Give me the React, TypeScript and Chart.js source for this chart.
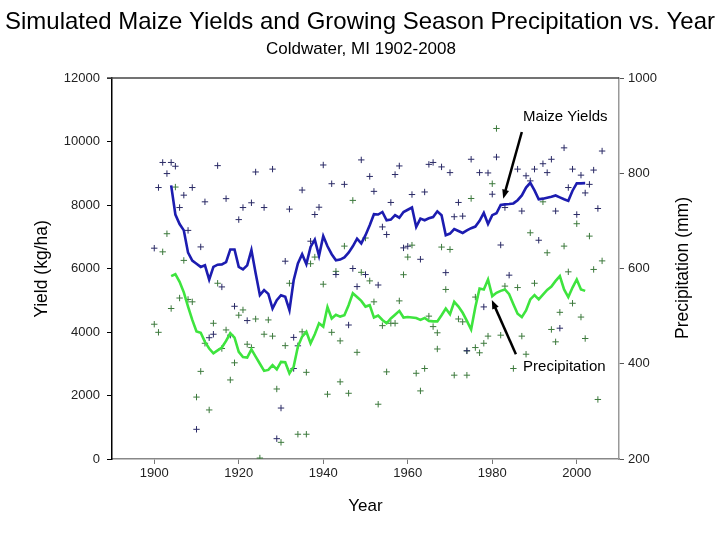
import React, { useEffect, useRef } from "react";
import { Chart, registerables } from "chart.js";

Chart.register(...registerables);

const TITLE = "Simulated Maize Yields and Growing Season Precipitation vs. Year";
const SUBTITLE = "Coldwater, MI 1902-2008";
const X_TITLE = "Year";
const Y_TITLE = "Yield (kg/ha)";
const Y2_TITLE = "Precipitation (mm)";
const LABEL_YIELD = "Maize Yields";
const LABEL_PRECIP = "Precipitation";

const xTicks = [1900, 1920, 1940, 1960, 1980, 2000];
const yTicks = [0, 2000, 4000, 6000, 8000, 10000, 12000];
const y2Ticks = [200, 400, 600, 800, 1000];

// moving averages, one value per year starting at maStartYear
const maStartYear = 1904;
const yieldMA = [
  8620, 7700, 7400, 7200, 6500, 6250, 6150, 6050, 6100, 5650,
  6050, 6120, 6130, 6200, 6600, 6600, 6050, 5970, 6100, 6580,
  5850, 5160, 5320, 5200, 4740, 5000, 5160, 5110, 4690, 5630,
  6160, 6450, 6140, 6680, 6910, 6400, 7020, 6700, 6450, 6260,
  6280, 6350, 6500, 6700, 6940, 6790, 7050, 7360, 7710, 7700,
  7780, 7520, 7540, 7680, 7600, 7780, 7850, 7920, 7310, 7570,
  7520, 7580, 7620, 7800, 7680, 7050, 7100, 7240, 7180, 7120,
  7200, 7270, 7320, 7500, 7750, 7400, 7680, 7740, 8000, 8020,
  8030, 8050, 8150, 8300, 8550, 8700, 8460, 8180, 8200, 8230,
  8260, 8300, 8240, 8180, 8130, 8450, 8680, 8680, 8690,
];
const precipMA = [
  584, 588, 572, 550, 520, 492, 468, 465, 446, 432,
  422, 428, 434, 448, 464, 455, 425, 414, 413, 430,
  415, 400, 385, 387, 397, 388, 404, 403, 380, 394,
  436, 457, 467, 443, 462, 485, 478, 519, 495, 503,
  499, 502, 523, 548, 540, 532, 520, 523, 497, 501,
  492, 485, 495, 503, 511, 497, 498, 497, 496, 492,
  496, 490, 489, 489, 502, 516, 504, 530, 520, 507,
  490, 472, 519, 558, 556, 577, 542, 549, 553, 556,
  546, 525, 505, 498, 512, 535, 544, 535, 545, 555,
  562, 574, 584, 556, 540, 560, 577, 556, 553,
];

// annual simulated yields (kg/ha)
const yieldYears = [
  1900, 1901, 1902, 1903, 1904, 1905, 1906, 1907, 1908, 1909,
  1910, 1911, 1912, 1913, 1914, 1915, 1916, 1917, 1918, 1919,
  1920, 1921, 1922, 1923, 1924, 1926, 1928, 1929, 1930, 1931,
  1932, 1933, 1933, 1934, 1935, 1937, 1938, 1939, 1940, 1942,
  1943, 1945, 1946, 1947, 1948, 1949, 1950, 1951, 1952, 1953,
  1954, 1955, 1956, 1957, 1958, 1959, 1960, 1961, 1963, 1964,
  1965, 1966, 1968, 1969, 1970, 1971, 1972, 1973, 1974, 1975,
  1977, 1978, 1979, 1980, 1981, 1982, 1983, 1984, 1986, 1987,
  1988, 1989, 1990, 1991, 1992, 1993, 1994, 1995, 1996, 1997,
  1998, 1999, 2000, 2001, 2002, 2003, 2004, 2005, 2006,
];
const yieldValues = [
  6640, 8550, 9340, 8990, 9340, 9220, 7920, 8310, 7200, 8550,
  935, 6680, 8100, 3820, 3930, 9240, 5420, 8200, 3900, 4810,
  7540, 7920, 4360, 8070, 9040, 7920, 9130, 640, 1605, 6230,
  7870, 3830, 2850, 3565, 8470, 6860, 7700, 7930, 9260, 8670,
  5810, 8650, 4220, 6000, 5430, 9420, 5810, 8900, 8430, 5480,
  7310, 7070, 8080, 8960, 9230, 6650, 6700, 8330, 6290, 8410,
  9280, 9340, 9200, 5870, 9020, 7630, 8080, 7650, 3410, 9440,
  9020, 4790, 9010, 8340, 9510, 6740, 7920, 5790, 9130, 7810,
  8920, 8760, 9130, 6890, 9300, 9020, 9440, 7810, 4120, 9800,
  8550, 9130, 7700, 8940, 8380, 8650, 9100, 7890, 9700,
];

// annual growing season precipitation (mm)
const precipYears = [
  1900, 1901, 1902, 1903, 1904, 1905, 1906, 1907, 1908, 1909,
  1910, 1911, 1912, 1913, 1914, 1915, 1916, 1917, 1918, 1919,
  1920, 1921, 1922, 1923, 1924, 1925, 1926, 1927, 1928, 1929,
  1930, 1931, 1932, 1934, 1935, 1936, 1936, 1937, 1938, 1940,
  1941, 1942, 1943, 1944, 1944, 1945, 1946, 1947, 1948, 1949,
  1950, 1951, 1952, 1953, 1954, 1955, 1956, 1957, 1958, 1959,
  1960, 1961, 1962, 1963, 1964, 1965, 1966, 1967, 1967, 1968,
  1969, 1970, 1971, 1972, 1973, 1974, 1974, 1975, 1976, 1976,
  1977, 1978, 1979, 1980, 1981, 1982, 1983, 1985, 1986, 1987,
  1988, 1989, 1990, 1992, 1993, 1994, 1995, 1996, 1997, 1998,
  1999, 2000, 2001, 2002, 2003, 2004, 2005, 2006,
];
const precipValues = [
  483, 466, 635, 673, 516, 771, 538, 617, 535, 530,
  330, 384, 443, 303, 485, 569, 432, 471, 366, 402,
  502, 513, 441, 434, 494, 202, 462, 492, 458, 347,
  235, 438, 569, 252, 467, 382, 252, 610, 624, 567,
  336, 466, 594, 448, 362, 647, 338, 743, 424, 592,
  664, 574, 530, 315, 480, 383, 485, 485, 532, 587,
  624, 649, 380, 343, 390, 500, 478, 465, 431, 645,
  556, 640, 376, 494, 488, 427, 376, 747, 434, 540,
  423, 443, 458, 778, 894, 460, 563, 390, 560, 458,
  420, 675, 569, 740, 633, 472, 446, 508, 647, 593,
  527, 694, 498, 453, 668, 598, 325, 616,
];

// annotation anchors (data coordinates)
const yieldArrowTail = [1987.0, 10300];
const yieldArrowHead = [1982.6, 8200];
const yieldLabelAt = [1987.3, 10790];
const precipArrowTail = [1985.6, 420];
const precipArrowHead = [1979.9, 534];
const precipLabelAt = [1987.3, 393];

const FONT = '"Liberation Sans", Arial, sans-serif';

function drawArrow(ctx: CanvasRenderingContext2D, x1: number, y1: number, x2: number, y2: number) {
  const ang = Math.atan2(y2 - y1, x2 - x1);
  const hl = 9;
  const hw = 3.5;
  ctx.save();
  ctx.strokeStyle = "#000";
  ctx.fillStyle = "#000";
  ctx.lineWidth = 2.5;
  ctx.beginPath();
  ctx.moveTo(x1, y1);
  ctx.lineTo(x2 - Math.cos(ang) * hl * 0.6, y2 - Math.sin(ang) * hl * 0.6);
  ctx.stroke();
  ctx.beginPath();
  ctx.moveTo(x2, y2);
  ctx.lineTo(
    x2 - Math.cos(ang) * hl - Math.sin(ang) * hw,
    y2 - Math.sin(ang) * hl + Math.cos(ang) * hw
  );
  ctx.lineTo(
    x2 - Math.cos(ang) * hl + Math.sin(ang) * hw,
    y2 - Math.sin(ang) * hl - Math.cos(ang) * hw
  );
  ctx.closePath();
  ctx.fill();
  ctx.restore();
}

const decorPlugin = {
  id: "decor",
  afterDraw(chart: any) {
    const ctx: CanvasRenderingContext2D = chart.ctx;
    const xs = chart.scales.x;
    const ys = chart.scales.y;
    const y2s = chart.scales.y2;
    const area = chart.chartArea;
    ctx.save();
    // top frame line
    ctx.strokeStyle = "#444";
    ctx.lineWidth = 1.5;
    ctx.beginPath();
    ctx.moveTo(area.left - 5, area.top);
    ctx.lineTo(area.right, area.top);
    ctx.stroke();

    ctx.fillStyle = "#000";
    ctx.textAlign = "center";
    ctx.textBaseline = "middle";
    ctx.font = `24px ${FONT}`;
    ctx.fillText(TITLE, 360, 22, 710);
    ctx.font = `17px ${FONT}`;
    ctx.fillText(SUBTITLE, 361, 49, 200);

    ctx.font = `17px ${FONT}`;
    ctx.fillText(X_TITLE, (area.left + area.right) / 2, 506);

    ctx.save();
    ctx.translate(42, 269);
    ctx.rotate(-Math.PI / 2);
    ctx.font = `17.5px ${FONT}`;
    ctx.fillText(Y_TITLE, 0, 0);
    ctx.restore();

    ctx.save();
    ctx.translate(683, 268);
    ctx.rotate(-Math.PI / 2);
    ctx.font = `17.5px ${FONT}`;
    ctx.fillText(Y2_TITLE, 0, 0);
    ctx.restore();

    // annotations
    ctx.font = `15px ${FONT}`;
    ctx.textAlign = "left";
    ctx.fillText(LABEL_YIELD, xs.getPixelForValue(yieldLabelAt[0]), ys.getPixelForValue(yieldLabelAt[1]));
    ctx.fillText(LABEL_PRECIP, xs.getPixelForValue(precipLabelAt[0]), y2s.getPixelForValue(precipLabelAt[1]));
    drawArrow(
      ctx,
      xs.getPixelForValue(yieldArrowTail[0]), ys.getPixelForValue(yieldArrowTail[1]),
      xs.getPixelForValue(yieldArrowHead[0]), ys.getPixelForValue(yieldArrowHead[1])
    );
    drawArrow(
      ctx,
      xs.getPixelForValue(precipArrowTail[0]), y2s.getPixelForValue(precipArrowTail[1]),
      xs.getPixelForValue(precipArrowHead[0]), y2s.getPixelForValue(precipArrowHead[1])
    );
    ctx.restore();
  },
};

export default function App() {
  const ref = useRef<HTMLCanvasElement | null>(null);
  useEffect(() => {
    if (!ref.current) return;
    const yieldLine = yieldMA.map((v, i) => ({ x: maStartYear + i, y: v }));
    const precipLine = precipMA.map((v, i) => ({ x: maStartYear + i, y: v }));
    const yieldPts = yieldValues.map((v, i) => ({ x: yieldYears[i], y: v }));
    const precipPts = precipValues.map((v, i) => ({ x: precipYears[i], y: v }));
    const tickFont = { family: FONT, size: 13 };
    const chart = new Chart(ref.current, {
      type: "scatter",
      data: {
        datasets: [
          {
            type: "line",
            label: "Yield MA",
            data: yieldLine,
            yAxisID: "y",
            borderColor: "#1c1cb0",
            borderWidth: 2.6,
            pointRadius: 0,
            fill: false,
            tension: 0,
          },
          {
            type: "line",
            label: "Precip MA",
            data: precipLine,
            yAxisID: "y2",
            borderColor: "#3ee43e",
            borderWidth: 2.6,
            pointRadius: 0,
            fill: false,
            tension: 0,
          },
          {
            label: "Yield",
            data: yieldPts,
            yAxisID: "y",
            pointStyle: "cross",
            pointRadius: 3.2,
            borderColor: "#2a2a66",
            borderWidth: 1,
            showLine: false,
          },
          {
            label: "Precipitation",
            data: precipPts,
            yAxisID: "y2",
            pointStyle: "cross",
            pointRadius: 3.2,
            borderColor: "#3d7a3d",
            borderWidth: 1,
            showLine: false,
          },
        ],
      } as any,
      options: {
        responsive: false,
        animation: false,
        layout: { padding: { top: 78, left: 0, right: 0, bottom: 0 } },
        plugins: {
          legend: { display: false },
          tooltip: { enabled: false },
          title: { display: false },
        },
        scales: {
          x: {
            type: "linear",
            position: "bottom",
            min: 1890,
            max: 2010,
            afterBuildTicks: (s: any) => {
              s.ticks = xTicks.map((v) => ({ value: v }));
            },
            afterFit: (s: any) => {
              s.height = 81;
            },
            grid: { drawOnChartArea: false, drawTicks: true, tickLength: 5, color: "#777" },
            border: { color: "#888", width: 1.5 },
            ticks: { font: tickFont, color: "#222", padding: 2, callback: (v: any) => String(v), maxRotation: 0 },
          },
          y: {
            type: "linear",
            position: "left",
            min: 0,
            max: 12000,
            afterBuildTicks: (s: any) => {
              s.ticks = yTicks.map((v) => ({ value: v }));
            },
            afterFit: (s: any) => {
              s.width = 112;
            },
            grid: { drawOnChartArea: false, drawTicks: true, tickLength: 5, color: "#000" },
            border: { color: "#000", width: 1.5 },
            ticks: { font: tickFont, color: "#222", padding: 7, callback: (v: any) => String(v) },
          },
          y2: {
            type: "linear",
            position: "right",
            min: 200,
            max: 1000,
            afterBuildTicks: (s: any) => {
              s.ticks = y2Ticks.map((v) => ({ value: v }));
            },
            afterFit: (s: any) => {
              s.width = 101;
            },
            grid: { drawOnChartArea: false, drawTicks: true, tickLength: 5, color: "#555" },
            border: { color: "#999", width: 1.5 },
            ticks: { font: tickFont, color: "#222", padding: 4, callback: (v: any) => String(v) },
          },
        },
      } as any,
      plugins: [decorPlugin],
    });
    return () => chart.destroy();
  }, []);
  return (
    <div style={{ position: "fixed", left: 0, top: 0, width: 720, height: 540, background: "#fff" }}>
      <canvas ref={ref} width={720} height={540} />
    </div>
  );
}
